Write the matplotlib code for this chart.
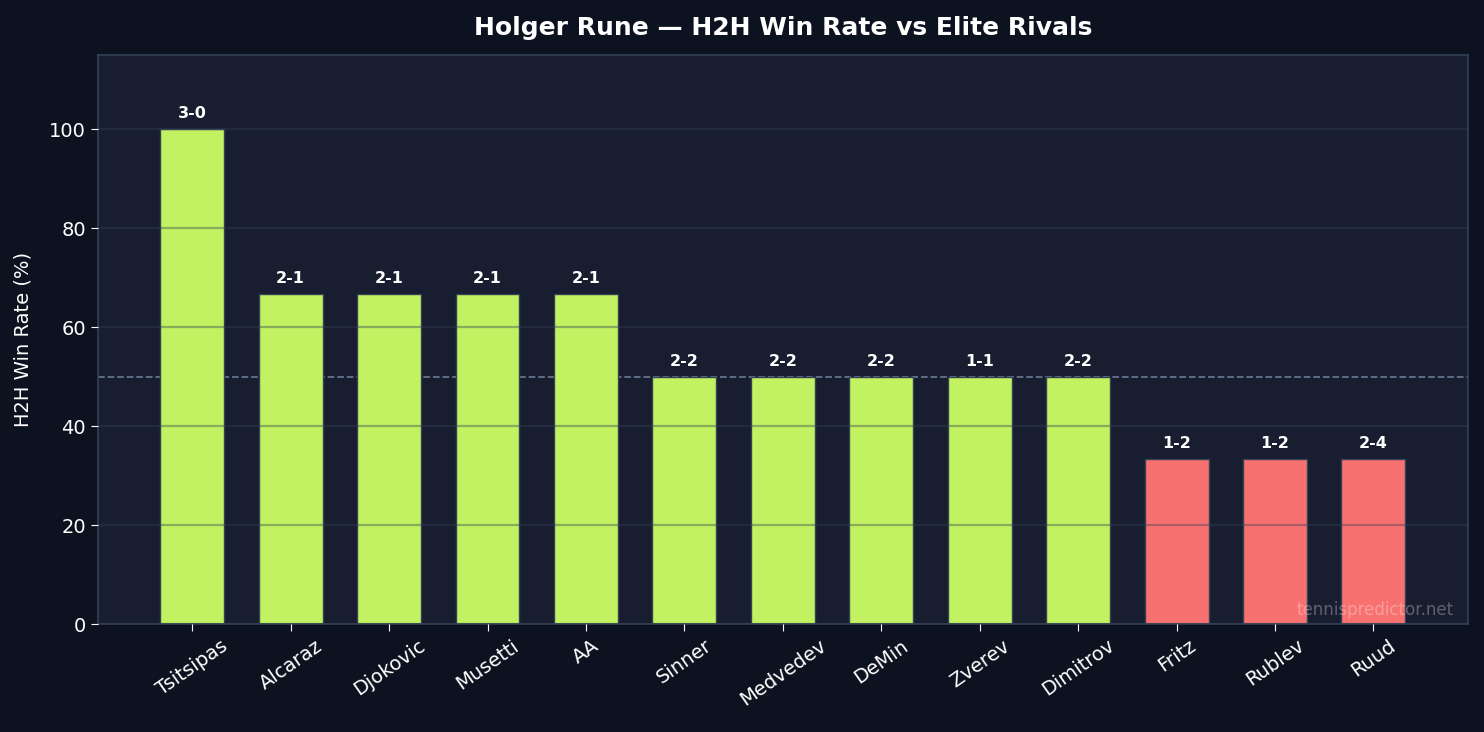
import matplotlib.pyplot as plt

# H2H data
gegner = ["Tsitsipas", "Alcaraz", "Djokovic", "Musetti", "AA", "Sinner", "Medvedev",
          "DeMin", "Zverev", "Dimitrov", "Fritz", "Rublev", "Ruud"]
siege = [3, 2, 2, 2, 2, 2, 2, 2, 1, 2, 1, 1, 2]
niederlagen = [0, 1, 1, 1, 1, 2, 2, 2, 1, 2, 2, 2, 4]

win_rate = [100 * s / (s + n) for s, n in zip(siege, niederlagen)]
farben = ["#c2f261" if w >= 50 else "#f87171" for w in win_rate]

bg_fig = "#0d1220"
bg_ax = "#181e30"


def main():
    fig, ax = plt.subplots(figsize=(14.84, 7.32), dpi=100)
    fig.patch.set_facecolor(bg_fig)
    ax.set_facecolor(bg_ax)
    fig.subplots_adjust(left=0.066, right=0.989, top=0.925, bottom=0.147)

    x = range(len(gegner))
    ax.axhline(50, color="#64748b", linestyle="--", linewidth=1.3, zorder=1)
    ax.bar(x, win_rate, width=0.65, color=farben, edgecolor="#334155", linewidth=1, zorder=2)

    for i, (w, s, n) in enumerate(zip(win_rate, siege, niederlagen)):
        ax.text(i, w + 1.6, f"{s}-{n}", ha="center", va="bottom", color="white",
                fontsize=11.5, fontweight="bold", zorder=5)

    ax.set_ylim(0, 115)
    ax.set_xticks(list(x))
    ax.set_xticklabels(gegner, rotation=35, ha="center", fontsize=14)
    ax.tick_params(colors="white", labelsize=14, length=5)
    ax.set_ylabel("H2H Win Rate (%)", color="white", fontsize=14, labelpad=12)
    ax.set_title("Holger Rune — H2H Win Rate vs Elite Rivals", color="white",
                 fontsize=18, fontweight="bold", pad=14)

    ax.yaxis.grid(True, color="#334155", alpha=0.4, linewidth=1.6, zorder=3)
    ax.set_axisbelow(False)
    for sp in ax.spines.values():
        sp.set_color("#334155")
        sp.set_linewidth(1.2)

    ax.text(0.99, 0.01, "tennispredictor.net", transform=ax.transAxes, ha="right",
            va="bottom", color="white", alpha=0.3, fontsize=12, zorder=6)

    plt.savefig("out.png", facecolor=fig.get_facecolor())


if __name__ == "__main__":
    main()
